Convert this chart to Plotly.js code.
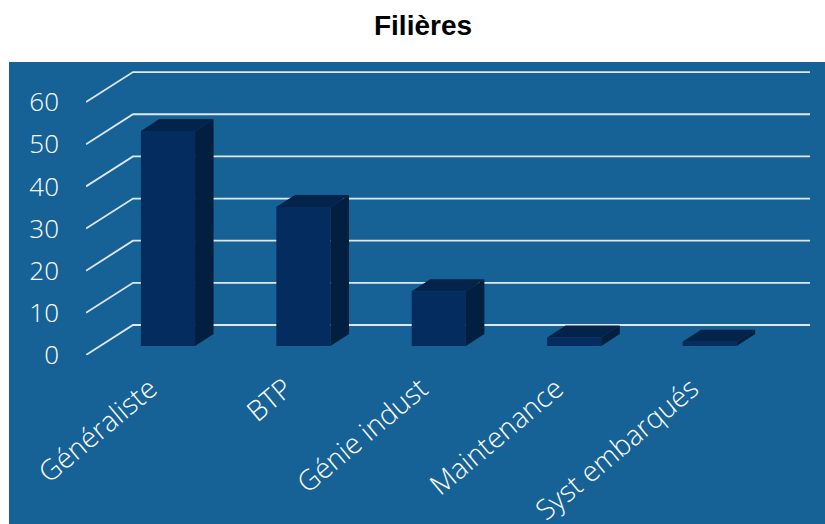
<!DOCTYPE html>
<html>
<head>
<meta charset="utf-8">
<script src="https://cdn.plot.ly/plotly-3.0.1.min.js"></script>
<style>html,body{margin:0;padding:0;background:#fff;}</style>
</head>
<body>
<div id="chart" style="width:825px;height:524px;"></div>
<script>
// ---- data ----
const categories = ['Généraliste', 'BTP', 'Génie indust', 'Maintenance', 'Syst embarqués'];
const values = [51, 33, 13, 2, 1];
const yTicks = [0, 10, 20, 30, 40, 50, 60];
const yTickLabels = ['0', '10', '20', '30', '40', '50', '60'];
const chartTitle = 'Filières';

// ---- geometry / style ----
const W = 825, H = 524;
const M = {l: 86, r: 15, t: 62, b: 169};
const plotW = W - M.l - M.r, plotH = H - M.t - M.b;
const PX = 135.4;            // px per category
const PY = 4.215;            // px per value unit
const xr = [-82 / PX, -82 / PX + plotW / PX];
const yr = [-9 / PY, -9 / PY + plotH / PY];
const barW = 0.4;
const dx = 18.5 / PX, dy = 12 / PY;   // bar depth
const wallDX = 47 / PX;               // floor depth (x)
const frontDY = -9 / PY, backDY = 21 / PY;

const colFront = '#052c5f', colSide = '#021f3f', colTop = '#03234b';
const bg = '#166296';
const gridCol = '#dfe8f2';

// side & top faces
const sideX = [], sideY = [], topX = [], topY = [];
values.forEach((v, i) => {
  const xl = i - barW / 2, xrr = i + barW / 2;
  sideX.push(xrr, xrr, xrr + dx, xrr + dx, xrr, null);
  sideY.push(0, v, v + dy, dy, 0, null);
  topX.push(xl, xrr, xrr + dx, xl + dx, xl, null);
  topY.push(v, v, v + dy, v + dy, v, null);
});

const traces = [
  {type: 'bar', x: categories.map((c, i) => i), y: values, width: barW,
   marker: {color: colFront, line: {width: 0}}, hoverinfo: 'skip'},
  {type: 'scatter', mode: 'lines', x: sideX, y: sideY, fill: 'toself',
   fillcolor: colSide, line: {width: 0, color: colSide}, hoverinfo: 'skip'},
  {type: 'scatter', mode: 'lines', x: topX, y: topY, fill: 'toself',
   fillcolor: colTop, line: {width: 0, color: colTop}, hoverinfo: 'skip'}
];

const shapes = [
  {type: 'rect', xref: 'paper', yref: 'paper', layer: 'below',
   x0: (9 - M.l) / plotW, x1: (W + 5 - M.l) / plotW,
   y0: -(M.b + 5) / plotH, y1: 1,
   fillcolor: bg, line: {width: 0}}
];
yTicks.forEach(v => {
  shapes.push({type: 'path', xref: 'x', yref: 'y', layer: 'below',
    path: 'M ' + xr[0] + ',' + (v + frontDY) +
          ' L ' + (xr[0] + wallDX) + ',' + (v + backDY) +
          ' L ' + xr[1] + ',' + (v + backDY),
    line: {color: gridCol, width: 1.8}});
});

const tickFont = {family: 'Open Sans', size: 26, color: '#ffffff', weight: 300};

const layout = {
  width: W, height: H,
  margin: M,
  paper_bgcolor: '#ffffff',
  plot_bgcolor: 'rgba(0,0,0,0)',
  showlegend: false,
  hovermode: false,
  title: {text: chartTitle, x: 423 / W, xanchor: 'center', xref: 'container',
          y: 1 - 25 / H, yanchor: 'middle', yref: 'container',
          font: {family: 'Liberation Sans', size: 28, color: '#000000', weight: 'bold'}},
  xaxis: {range: xr, tickmode: 'array', tickvals: categories.map((c, i) => i),
          ticktext: categories, tickangle: -40, showgrid: false, zeroline: false,
          showline: false, ticks: '', tickfont: Object.assign({}, tickFont, {size: 28}),
          ticklabelstandoff: 11, ticklabelshift: -18, fixedrange: true},
  yaxis: {range: yr, tickmode: 'array', tickvals: yTicks, ticktext: yTickLabels,
          showgrid: false, zeroline: false, showline: false, ticks: '',
          tickfont: tickFont, ticklabelstandoff: 26, ticklabelshift: 9, fixedrange: true},
  shapes: shapes
};

Plotly.newPlot('chart', traces, layout, {displayModeBar: false, staticPlot: true});
</script>
</body>
</html>
